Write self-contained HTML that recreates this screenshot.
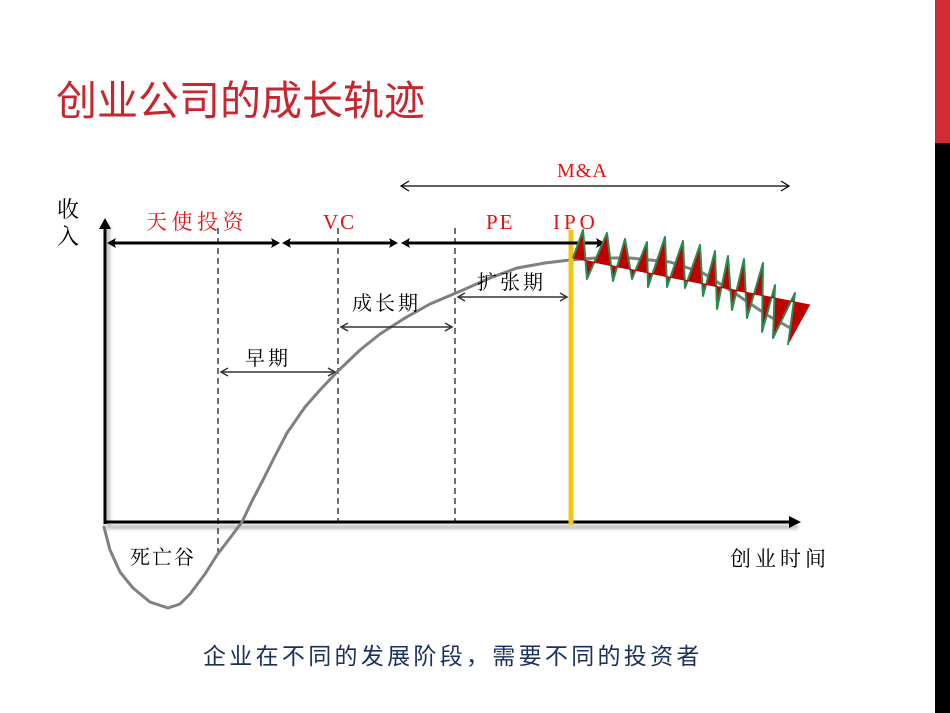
<!DOCTYPE html>
<html><head><meta charset="utf-8"><style>
html,body{margin:0;padding:0;background:#fff;}
body{width:950px;height:713px;overflow:hidden;position:relative;}
svg{position:absolute;left:0;top:0;}
</style></head><body>
<svg width="950" height="713" viewBox="0 0 950 713" xmlns="http://www.w3.org/2000/svg">
<defs>
<filter id="sh" x="-20%" y="-20%" width="140%" height="140%"><feGaussianBlur stdDeviation="1.5"/></filter>
</defs>
<rect x="0" y="0" width="950" height="713" fill="#fff"/>
<!-- right bar -->
<rect x="935" y="0" width="15" height="143" fill="#d42a33"/>
<rect x="935" y="143" width="15" height="570" fill="#000"/>
<!-- title -->
<text x="56" y="115" font-family="Liberation Sans, Noto Sans CJK SC, sans-serif" font-size="41" fill="#c9252f">创业公司的成长轨迹</text>

<!-- axes shadows -->
<path d="M108,224 L108,527 L798,527" stroke="#bbb" stroke-width="4" fill="none" filter="url(#sh)"/>
<!-- dashed lines -->
<g stroke="#222" stroke-width="1.3" stroke-dasharray="6,4" fill="none">
<line x1="218" y1="228" x2="218" y2="553"/>
<line x1="338" y1="228" x2="338" y2="522"/>
<line x1="455" y1="228" x2="455" y2="522"/>
</g>
<!-- axes -->
<line x1="105" y1="226" x2="105" y2="524" stroke="#000" stroke-width="3"/>
<polygon points="105,218 99,229 111,229" fill="#000"/>
<line x1="104" y1="522" x2="792" y2="522" stroke="#000" stroke-width="3"/>
<polygon points="801,522 789,516 789,528" fill="#000"/>

<!-- gray curve -->
<polyline points="104,527 110,550 120,572 133,588 150,602 168,608 180,604 190,594 205,574 217,555 230,538 242,522 252,501 263,480 275,456 287,433 305,407 320,390 337,372 360,350 380,334 405,318 430,304 463,290 490,278 517,268 545,263 570,260 595,258 630,258 670,262 703,273 733,292 767,315 792,329" fill="none" stroke="#808080" stroke-width="3" stroke-linejoin="round" stroke-linecap="round"/>

<!-- yellow IPO line -->
<line x1="573" y1="232" x2="573" y2="526" stroke="#ccc" stroke-width="5" filter="url(#sh)"/>
<line x1="571" y1="230" x2="571" y2="525" stroke="#f0c419" stroke-width="5"/>

<!-- top arrow row -->
<g stroke="#000" stroke-width="3">
<line x1="112" y1="243" x2="274" y2="243"/>
<line x1="287" y1="243" x2="393" y2="243"/>
<line x1="406" y1="243" x2="600" y2="243"/>
</g>
<g fill="#000">
<polygon points="107,243 116,238 114,243 116,248"/>
<polygon points="280,243 271,238 273,243 271,248"/>
<polygon points="282,243 291,238 289,243 291,248"/>
<polygon points="398,243 389,238 391,243 389,248"/>
<polygon points="401,243 410,238 408,243 410,248"/>
<polygon points="605,243 596,238 598,243 596,248"/>
</g>

<!-- zigzag -->
<polygon points="573,258 583,230 587,279 607,233 613,281 625,239 632,279 647,242 648,287 665,237 667,287 683,241 685,288 700,245 703,296 715,251 717,309 728,256 732,310 744,259 747,318 763,263 762,332 775,285 773,338 795,293 788,345 810,305" fill="#c00000" stroke="none"/>
<polyline points="573,258 583,230 587,279 607,233 613,281 625,239 632,279 647,242 648,287 665,237 667,287 683,241 685,288 700,245 703,296 715,251 717,309 728,256 732,310 744,259 747,318 763,263 762,332 775,285 773,338 795,293 788,345" fill="none" stroke="#2a8a50" stroke-width="2" stroke-linejoin="round"/>
<line x1="573" y1="258" x2="810" y2="305" stroke="#c00000" stroke-width="1"/>

<!-- M&A arrow -->
<line x1="401" y1="186" x2="789" y2="186" stroke="#000" stroke-width="1.2"/>
<polyline points="409,181 401,186 409,191" fill="none" stroke="#000" stroke-width="1.2"/>
<polyline points="781,181 789,186 781,191" fill="none" stroke="#000" stroke-width="1.2"/>

<!-- thin arrows -->
<g stroke="#333" stroke-width="1.5" fill="none">
<line x1="221" y1="372" x2="335" y2="372"/>
<polyline points="228,368 221,372 228,376"/>
<polyline points="328,368 335,372 328,376"/>
<line x1="341" y1="327" x2="452" y2="327"/>
<polyline points="348,323 341,327 348,331"/>
<polyline points="445,323 452,327 445,331"/>
<line x1="458" y1="297" x2="567" y2="297"/>
<polyline points="465,293 458,297 465,301"/>
<polyline points="560,293 567,297 560,301"/>
</g>

<!-- labels -->
<g font-family="Liberation Serif, Noto Serif CJK SC, serif" fill="#000">
<text x="57" y="217" font-size="22">收</text>
<text x="57" y="244" font-size="22">入</text>
<text x="245" y="365" font-size="20" letter-spacing="3">早期</text>
<text x="352" y="310" font-size="20" letter-spacing="3">成长期</text>
<text x="477" y="289" font-size="20" letter-spacing="3">扩张期</text>
<text x="130" y="564" font-size="20" letter-spacing="2">死亡谷</text>
<text x="730" y="566" font-size="21" letter-spacing="4">创业时间</text>
</g>
<g font-family="Liberation Serif, Noto Serif CJK SC, serif" fill="#e81010">
<text x="146" y="229" font-size="21" letter-spacing="4.5">天使投资</text>
<text x="323" y="229" font-size="21" letter-spacing="2">VC</text>
<text x="486" y="229" font-size="21" letter-spacing="2">PE</text>
<text x="553" y="229" font-size="21" letter-spacing="4">IPO</text>
<text x="557" y="177" font-size="20" letter-spacing="1">M&amp;A</text>
</g>

<!-- caption -->
<text x="203" y="664" font-family="Liberation Sans, Noto Sans CJK SC, sans-serif" font-size="23" letter-spacing="3.3" fill="#1a2f5e">企业在不同的发展阶段，需要不同的投资者</text>
</svg>
</body></html>
